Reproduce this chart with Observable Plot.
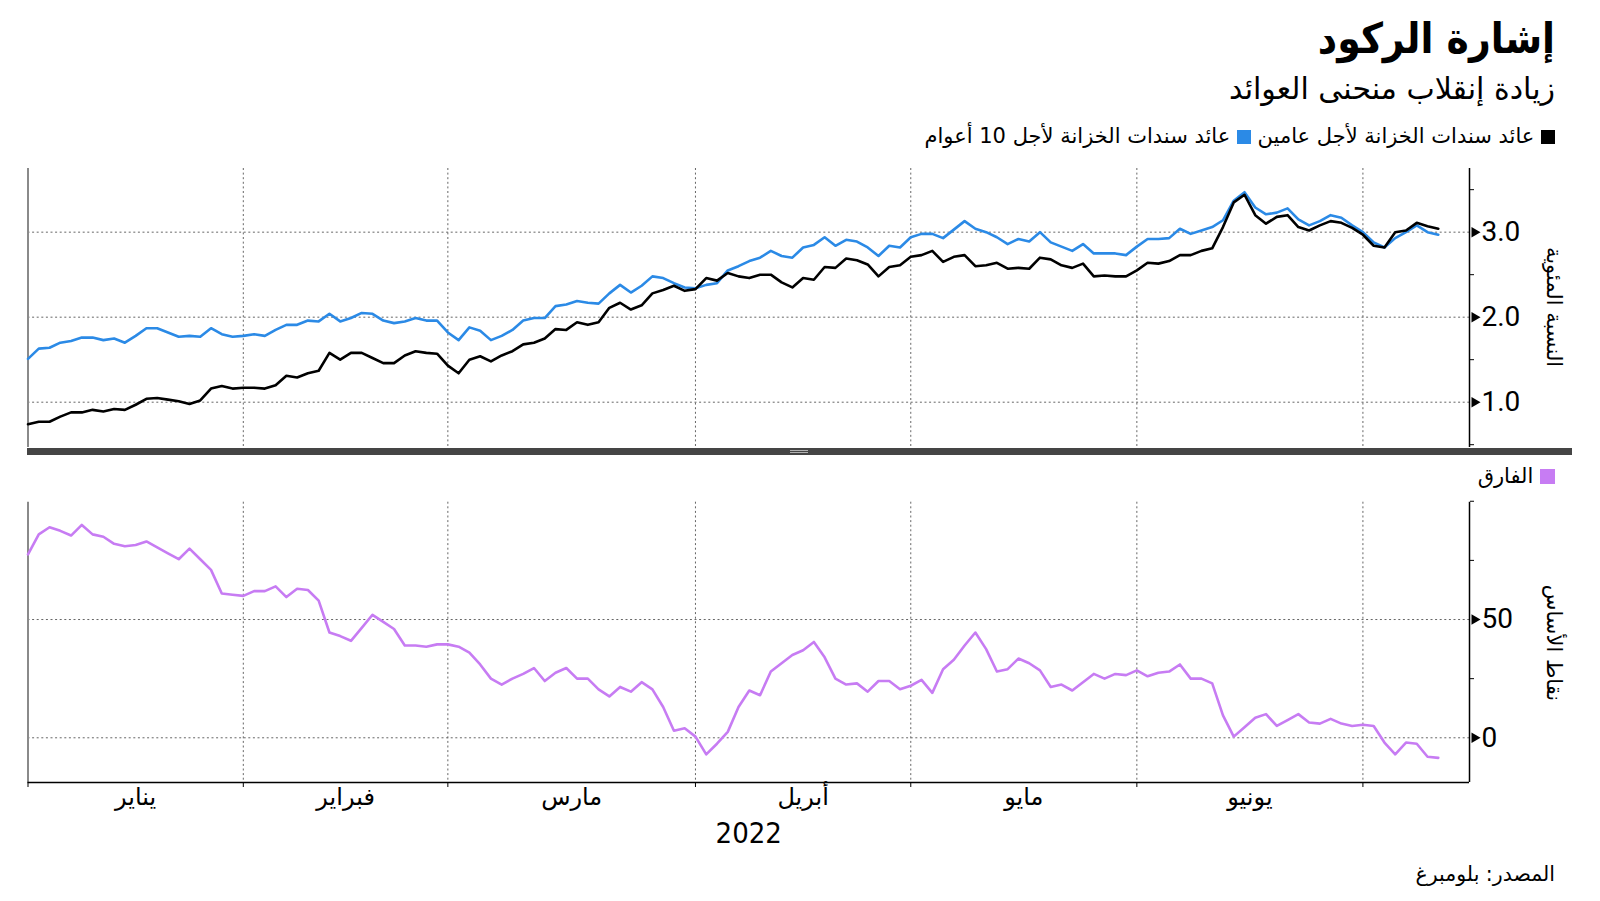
<!DOCTYPE html>
<html lang="ar">
<head>
<meta charset="utf-8">
<script src="https://cdn.jsdelivr.net/npm/d3@7"></script>
<script src="https://cdn.jsdelivr.net/npm/@observablehq/plot@0.6"></script>
<style>
  body { margin: 0; background: #fff; }
  #root { position: relative; width: 1600px; height: 901px; overflow: hidden; font-family: "DejaVu Sans", sans-serif; color: #000; }
  .abs { position: absolute; white-space: nowrap; direction: rtl; line-height: 1; }
  .sq { display: inline-block; width: 14px; height: 14px; vertical-align: -1px; }
  .vlab { position: absolute; white-space: nowrap; direction: rtl; font-size: 21px; line-height: 1; transform: translate(-50%, -50%) rotate(90deg); }
  svg { position: absolute; left: 0; overflow: visible; }
</style>
</head>
<body>
<div id="root">
  <div class="abs" style="right:45px; top:18px; font-size:42px; font-weight:bold; font-family:'DejaVu Sans Condensed','DejaVu Sans',sans-serif;">إشارة الركود</div>
  <div class="abs" style="right:45px; top:74px; font-size:30px;">زيادة إنقلاب منحنى العوائد</div>
  <div class="abs" style="right:45px; top:126px; font-size:21px;">
    <span class="sq" style="background:#000"></span> عائد سندات الخزانة لأجل عامين <span class="sq" style="background:#2b8ae6"></span> عائد سندات الخزانة لأجل 10 أعوام
  </div>
  <div class="vlab" style="left:1553px; top:307px;">النسبة المئوية</div>
  <div class="abs" style="right:45px; top:466px; font-size:21px;">
    <span class="sq" style="background:#c77cf3; width:15px; height:15px;"></span> الفارق
  </div>
  <div class="vlab" style="left:1553px; top:643px;">نقاط الأساس</div>
  <div class="abs" style="right:45px; top:864px; font-size:20.5px;">المصدر: بلومبرغ</div>
  <div id="top" style="position:absolute; left:0; top:160px; width:1600px; height:295px;"></div>
  <div style="position:absolute; left:27px; top:448px; width:1545px; height:7px; background:#454545;"></div>
  <div style="position:absolute; left:790px; top:450px; width:18px; height:1px; background:#b0b0b0;"></div>
  <div style="position:absolute; left:790px; top:452px; width:18px; height:1px; background:#b0b0b0;"></div>
  <div id="bottom" style="position:absolute; left:0; top:490px; width:1600px; height:370px;"></div>
</div>
<script>
// ---- data (trading-day index 0 = first day of 2022 on the chart) ----
const twoYear = [0.74,0.77,0.77,0.83,0.88,0.88,0.91,0.89,0.92,0.91,0.97,1.04,1.05,1.03,1.01,0.98,1.02,1.16,1.19,1.16,
  1.17,1.17,1.16,1.20,1.31,1.29,1.34,1.37,1.58,1.50,1.58,1.58,1.52,1.46,1.46,1.55,1.60,1.58,1.57,1.43,
  1.34,1.50,1.54,1.48,1.55,1.60,1.68,1.70,1.75,1.86,1.85,1.94,1.91,1.94,2.11,2.17,2.09,2.14,2.28,2.32,
  2.37,2.31,2.33,2.46,2.43,2.52,2.48,2.46,2.50,2.50,2.41,2.35,2.46,2.44,2.59,2.58,2.69,2.67,2.62,2.48,
  2.59,2.61,2.71,2.73,2.78,2.65,2.71,2.73,2.60,2.61,2.64,2.57,2.58,2.57,2.70,2.68,2.61,2.58,2.63,2.48,
  2.49,2.48,2.48,2.55,2.64,2.63,2.66,2.73,2.73,2.78,2.81,3.06,3.35,3.44,3.20,3.10,3.18,3.20,3.06,3.02,
  3.08,3.13,3.11,3.05,2.97,2.84,2.82,3.00,3.02,3.11,3.07,3.04];
const tenYear = [1.51,1.63,1.64,1.70,1.72,1.76,1.76,1.73,1.75,1.70,1.78,1.87,1.87,1.82,1.77,1.78,1.77,1.87,1.80,1.77,
  1.78,1.80,1.78,1.85,1.91,1.91,1.96,1.95,2.04,1.95,1.99,2.05,2.04,1.96,1.93,1.95,1.99,1.96,1.96,1.82,
  1.73,1.88,1.84,1.73,1.78,1.85,1.96,1.99,1.99,2.13,2.15,2.19,2.17,2.16,2.28,2.38,2.29,2.37,2.48,2.46,
  2.40,2.35,2.34,2.38,2.40,2.55,2.60,2.66,2.70,2.78,2.72,2.70,2.82,2.85,2.94,2.84,2.91,2.89,2.82,2.72,
  2.84,2.82,2.94,2.98,2.98,2.93,3.03,3.13,3.04,3.00,2.94,2.86,2.92,2.89,3.00,2.88,2.83,2.78,2.86,2.75,
  2.75,2.75,2.73,2.83,2.92,2.92,2.93,3.04,2.98,3.02,3.06,3.14,3.37,3.47,3.29,3.21,3.23,3.28,3.15,3.08,
  3.13,3.20,3.17,3.08,3.00,2.88,2.82,2.93,3.00,3.08,3.00,2.97];
const spread = [77.5,86,89,87.5,85.5,90,86,85,82,81,81.5,83,80.5,78,75.5,80,75.5,71,61,60.5,
  60,62,62,64,59.5,63,62.5,58,44.5,43,41,46.5,52,49,46,39,39,38.5,39.5,39.5,
  38.5,36,31,25,22.5,25,27,29.5,24,27.5,29.5,25,25,20.5,17.5,21.5,19.5,23.5,20.5,13,
  3,4,0.5,-7,-2.5,2.5,13,20,18,28,31.5,35,37,40.5,34,25,22.5,23,19.5,24,
  24,20.5,22,24.5,19,29,33,39,44.5,37.5,28,29,33.5,31.5,28.5,21.5,22.5,20,23.5,27,
  25,27,26.5,28.5,26,27.5,28,31,25,25,23,9.5,0.5,4.5,8.5,10,5,7.5,10,6.5,
  6,8,6,5,5.5,5,-2,-7,-2,-2.5,-8,-8.5];
const monthLabels = ["يناير", "فبراير", "مارس", "أبريل", "مايو", "يونيو"];
const monthStarts = [0, 20, 39, 62, 82, 103, 124];   // trading-day index of each month's first session
const yearLabel = "2022";
const yTicksTop = [1, 2, 3];
const yMinorTop = [0.5, 1.5, 2.5, 3.5];
const yTicksBottom = [0, 50];
const yMinorBottom = [25, 75, 100];

const rows = twoYear.map((v, i) => ({i, two: v, ten: tenYear[i], spread: spread[i]}));
const monthMids = monthLabels.map((_, k) => (monthStarts[k] + monthStarts[k + 1]) / 2);

const xMax = 133.9;
const W = 1600, mL = 27.5, mR = 131;
const grid = {stroke: "#666", strokeDasharray: "2,2.6", strokeWidth: 1};
const numFont = "Roboto, 'DejaVu Sans', sans-serif";
const arFont = "'DejaVu Sans', sans-serif";

const topChart = Plot.plot({
  width: W, height: 295,
  marginLeft: mL, marginRight: mR, marginTop: 8, marginBottom: 8,
  x: {domain: [0, xMax], axis: null, label: null},
  y: {domain: [0.467, 3.749], axis: null, label: null},
  marks: [
    Plot.ruleX(monthStarts.slice(1), grid),
    Plot.ruleY(yTicksTop, grid),
    Plot.ruleX([0], {stroke: "#8a8a8a", strokeWidth: 2}),
    Plot.line(rows, {x: "i", y: "ten", stroke: "#2b8ae6", strokeWidth: 2.6}),
    Plot.line(rows, {x: "i", y: "two", stroke: "#000", strokeWidth: 2.6}),
    Plot.ruleX([xMax], {stroke: "#000", strokeWidth: 1.5}),
    Plot.axisY(yMinorTop, {anchor: "right", tickSize: 4, tickFormat: () => "", stroke: "#000", label: null}),
    Plot.dot(yTicksTop, {x: xMax, y: d => d, symbol: "triangle2", r: 5, rotate: 90, fill: "#000", dx: 5}),
    Plot.axisY(yTicksTop, {anchor: "right", tickSize: 0, tickPadding: 12, fontSize: 28, fontFamily: numFont, tickFormat: d3.format(".1f"), fill: "#000", label: null})
  ]
});
document.getElementById("top").appendChild(topChart);

const bottomChart = Plot.plot({
  width: W, height: 370,
  marginLeft: mL, marginRight: mR, marginTop: 11.7, marginBottom: 78,
  x: {domain: [0, xMax], axis: null, label: null},
  y: {domain: [-18.9, 99.6], axis: null, label: null},
  marks: [
    Plot.ruleX(monthStarts.slice(1), grid),
    Plot.ruleY(yTicksBottom, grid),
    Plot.ruleX([0], {stroke: "#8a8a8a", strokeWidth: 2}),
    Plot.line(rows, {x: "i", y: "spread", stroke: "#c77cf3", strokeWidth: 2.6}),
    Plot.ruleX([xMax], {stroke: "#000", strokeWidth: 1.5}),
    Plot.ruleY([-18.9], {stroke: "#000", strokeWidth: 1.5}),
    Plot.axisY(yMinorBottom, {anchor: "right", tickSize: 4, tickFormat: () => "", stroke: "#000", label: null}),
    Plot.dot(yTicksBottom, {x: xMax, y: d => d, symbol: "triangle2", r: 5, rotate: 90, fill: "#000", dx: 5}),
    Plot.axisY(yTicksBottom, {anchor: "right", tickSize: 0, tickPadding: 12, fontSize: 28, fontFamily: numFont, tickFormat: d => String(d), fill: "#000", label: null}),
    Plot.axisX(monthStarts, {anchor: "bottom", tickSize: 5, tickFormat: () => "", stroke: "#000", label: null}),
    Plot.axisX(monthMids, {anchor: "bottom", tickSize: 0, tickPadding: 5, fontSize: 24, fontFamily: arFont, fill: "#000", label: null,
      tickFormat: d => monthLabels[monthMids.indexOf(d)]}),
    Plot.text([yearLabel], {text: d => d, frameAnchor: "bottom", lineAnchor: "middle", dy: 51, fontSize: 29, fontFamily: "'Liberation Sans Narrow', 'DejaVu Sans Condensed', sans-serif", fill: "#000"})
  ]
});
document.getElementById("bottom").appendChild(bottomChart);
</script>
</body>
</html>
